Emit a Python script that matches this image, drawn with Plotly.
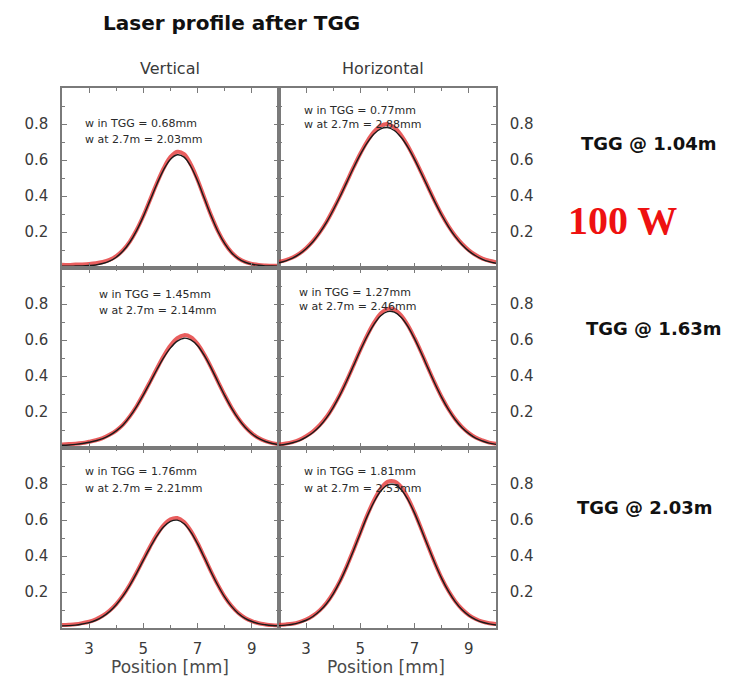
import plotly.graph_objects as go

W, H = 731, 681

# ---- data ----
position = [2.0, 2.25, 2.5, 2.75, 3.0, 3.25, 3.5, 3.75, 4.0, 4.25, 4.5, 4.75, 5.0, 5.25, 5.5, 5.75,
            6.0, 6.25, 6.5, 6.75, 7.0, 7.25, 7.5, 7.75, 8.0, 8.25, 8.5, 8.75, 9.0, 9.25, 9.5, 9.75, 10.0]

fit_104_vert = [0.010, 0.010, 0.011, 0.012, 0.014, 0.017, 0.025, 0.038, 0.060, 0.094, 0.143, 0.208, 0.287, 0.377, 0.467, 0.547,
                0.604, 0.629, 0.616, 0.564, 0.483, 0.386, 0.289, 0.203, 0.135, 0.085, 0.052, 0.032, 0.021, 0.015, 0.012, 0.011, 0.010]
data_104_vert = [0.018, 0.017, 0.019, 0.020, 0.022, 0.026, 0.033, 0.045, 0.066, 0.099, 0.147, 0.211, 0.290, 0.381, 0.472, 0.555,
                 0.617, 0.646, 0.633, 0.575, 0.489, 0.389, 0.291, 0.205, 0.137, 0.087, 0.054, 0.034, 0.023, 0.017, 0.014, 0.012, 0.012]
fit_104_horz = [0.029, 0.040, 0.055, 0.077, 0.107, 0.146, 0.195, 0.253, 0.322, 0.397, 0.477, 0.557, 0.631, 0.695, 0.744, 0.773,
                0.780, 0.764, 0.726, 0.671, 0.602, 0.525, 0.445, 0.366, 0.293, 0.229, 0.174, 0.129, 0.094, 0.068, 0.048, 0.035, 0.026]
data_104_horz = [0.035, 0.044, 0.058, 0.080, 0.110, 0.149, 0.198, 0.256, 0.325, 0.400, 0.480, 0.560, 0.636, 0.703, 0.756, 0.790,
                 0.800, 0.781, 0.738, 0.678, 0.606, 0.528, 0.448, 0.369, 0.296, 0.232, 0.178, 0.134, 0.099, 0.072, 0.052, 0.040, 0.032]

fit_163_vert = [0.015, 0.017, 0.020, 0.025, 0.032, 0.040, 0.052, 0.070, 0.095, 0.128, 0.174, 0.230, 0.295, 0.365, 0.436, 0.502,
                0.556, 0.594, 0.610, 0.601, 0.568, 0.513, 0.444, 0.367, 0.291, 0.222, 0.163, 0.115, 0.079, 0.053, 0.036, 0.025, 0.018]
data_163_vert = [0.020, 0.022, 0.024, 0.028, 0.035, 0.043, 0.055, 0.073, 0.097, 0.130, 0.176, 0.232, 0.298, 0.369, 0.442, 0.511,
                 0.569, 0.610, 0.627, 0.616, 0.578, 0.518, 0.447, 0.369, 0.293, 0.224, 0.165, 0.117, 0.081, 0.055, 0.038, 0.027, 0.020]
fit_163_horz = [0.016, 0.021, 0.029, 0.041, 0.060, 0.086, 0.121, 0.167, 0.226, 0.295, 0.374, 0.458, 0.543, 0.621, 0.687, 0.735,
                0.758, 0.755, 0.727, 0.676, 0.606, 0.526, 0.441, 0.357, 0.280, 0.213, 0.157, 0.113, 0.080, 0.055, 0.039, 0.027, 0.020]
data_163_horz = [0.020, 0.025, 0.033, 0.046, 0.066, 0.092, 0.127, 0.172, 0.230, 0.298, 0.376, 0.460, 0.546, 0.626, 0.695, 0.748,
                 0.773, 0.769, 0.737, 0.682, 0.610, 0.529, 0.443, 0.359, 0.282, 0.215, 0.160, 0.116, 0.083, 0.058, 0.042, 0.030, 0.024]

fit_203_vert = [0.012, 0.013, 0.016, 0.022, 0.030, 0.043, 0.063, 0.091, 0.129, 0.178, 0.237, 0.305, 0.377, 0.448, 0.512, 0.562,
                0.592, 0.599, 0.579, 0.533, 0.467, 0.390, 0.310, 0.236, 0.171, 0.120, 0.081, 0.054, 0.036, 0.024, 0.018, 0.014, 0.012]
data_203_vert = [0.016, 0.018, 0.021, 0.027, 0.035, 0.048, 0.068, 0.096, 0.133, 0.181, 0.240, 0.308, 0.381, 0.453, 0.519, 0.572,
                 0.604, 0.611, 0.589, 0.540, 0.471, 0.392, 0.312, 0.238, 0.173, 0.122, 0.083, 0.056, 0.038, 0.026, 0.020, 0.016, 0.014]
fit_203_horz = [0.013, 0.016, 0.021, 0.030, 0.043, 0.064, 0.094, 0.135, 0.190, 0.259, 0.341, 0.432, 0.527, 0.620, 0.700, 0.761,
                0.794, 0.797, 0.770, 0.714, 0.637, 0.546, 0.451, 0.358, 0.274, 0.203, 0.145, 0.101, 0.069, 0.047, 0.032, 0.023, 0.017]
data_203_horz = [0.018, 0.020, 0.024, 0.033, 0.047, 0.068, 0.098, 0.139, 0.194, 0.262, 0.344, 0.435, 0.531, 0.626, 0.709, 0.774,
                 0.812, 0.815, 0.784, 0.722, 0.641, 0.549, 0.453, 0.360, 0.276, 0.205, 0.148, 0.104, 0.072, 0.050, 0.035, 0.026, 0.022]

panel_notes = [
    ("w in TGG = 0.68mm", "w at 2.7m = 2.03mm"),
    ("w in TGG = 0.77mm", "w at 2.7m = 2.88mm"),
    ("w in TGG = 1.45mm", "w at 2.7m = 2.14mm"),
    ("w in TGG = 1.27mm", "w at 2.7m = 2.46mm"),
    ("w in TGG = 1.76mm", "w at 2.7m = 2.21mm"),
    ("w in TGG = 1.81mm", "w at 2.7m = 2.53mm"),
]
row_labels = ["TGG @ 1.04m", "TGG @ 1.63m", "TGG @ 2.03m"]
col_labels = ["Vertical", "Horizontal"]
y_ticks = [0.2, 0.4, 0.6, 0.8]
y_tick_text = ["0.2", "0.4", "0.6", "0.8"]
x_ticks = [3, 5, 7, 9]
x_tick_text = ["3", "5", "7", "9"]

panels = [
    (fit_104_vert, data_104_vert), (fit_104_horz, data_104_horz),
    (fit_163_vert, data_163_vert), (fit_163_horz, data_163_horz),
    (fit_203_vert, data_203_vert), (fit_203_horz, data_203_horz),
]

# ---- layout geometry (pixels) ----
col_px = [(62, 279), (279, 496)]
row_px = [(88, 268), (268, 448), (448, 628)]
note_px = [(83, 124, 139), (302, 110, 125), (97, 294, 310), (297, 292, 307), (83, 472, 488), (302, 472, 488)]


def px_x(p):
    return p / W


def px_y(p):
    return 1 - p / H


fig = go.Figure()
FONT = "DejaVu Sans"
AXCOL = "#7a7a7a"
TXT = "#3a3a3a"

for i, (fit, dat) in enumerate(panels):
    r, c = divmod(i, 2)
    n = i + 1
    xa = "x" if n == 1 else f"x{n}"
    ya = "y" if n == 1 else f"y{n}"
    fig.add_trace(go.Scatter(x=position, y=dat, mode="lines", line=dict(color="rgba(225,40,40,0.75)", width=4, shape="spline"),
                             xaxis=xa, yaxis=ya, showlegend=False, hoverinfo="skip"))
    fig.add_trace(go.Scatter(x=position, y=fit, mode="lines", line=dict(color="#1a1a1a", width=1.4, shape="spline"),
                             xaxis=xa, yaxis=ya, showlegend=False, hoverinfo="skip"))

    xkey = "xaxis" if n == 1 else f"xaxis{n}"
    ykey = "yaxis" if n == 1 else f"yaxis{n}"
    x0, x1 = col_px[c]
    y0, y1 = row_px[r]
    fig.layout[xkey] = dict(
        domain=[px_x(x0), px_x(x1)], anchor=ya, range=[2, 10],
        showline=True, linecolor=AXCOL, linewidth=1.5, mirror="ticks",
        ticks="inside", ticklen=5, tickcolor=AXCOL, tickwidth=1,
        tickvals=x_ticks, ticktext=x_tick_text, showticklabels=(r == 2),
        tickfont=dict(family=FONT, size=15, color=TXT), ticklabelstandoff=6,
        minor=dict(ticks="inside", ticklen=3, tickcolor=AXCOL, dtick=1, tick0=2, showgrid=False),
        showgrid=False, zeroline=False, fixedrange=True,
    )
    fig.layout[ykey] = dict(
        domain=[px_y(y1), px_y(y0)], anchor=xa, range=[0, 1],
        showline=True, linecolor=AXCOL, linewidth=1.5, mirror="ticks",
        ticks="inside", ticklen=5, tickcolor=AXCOL, tickwidth=1,
        tickvals=y_ticks, ticktext=y_tick_text, side=("left" if c == 0 else "right"),
        tickfont=dict(family=FONT, size=15, color=TXT), ticklabelstandoff=9,
        minor=dict(ticks="inside", ticklen=3, tickcolor=AXCOL, dtick=0.1, tick0=0, showgrid=False),
        showgrid=False, zeroline=False, fixedrange=True,
    )

annotations = []
# in-panel notes
for i, (l1, l2) in enumerate(panel_notes):
    xp, ya1, ya2 = note_px[i]
    for txt, yp in ((l1, ya1), (l2, ya2)):
        annotations.append(dict(text=txt, x=px_x(xp), y=px_y(yp), xref="paper", yref="paper",
                                xanchor="left", yanchor="middle", showarrow=False,
                                font=dict(family=FONT, size=11, color="#2a2a2a")))

# title
annotations.append(dict(text="<b>Laser profile after TGG</b>", x=px_x(231), y=px_y(23), xref="paper", yref="paper",
                        xanchor="center", yanchor="middle", showarrow=False,
                        font=dict(family=FONT, size=20, color="#111")))
# column headers
for lab, cx in zip(col_labels, [170, 383]):
    annotations.append(dict(text=lab, x=px_x(cx), y=px_y(68), xref="paper", yref="paper",
                            xanchor="center", yanchor="middle", showarrow=False,
                            font=dict(family=FONT, size=16, color=TXT)))
# x axis titles
for cx in [170, 386]:
    annotations.append(dict(text="Position [mm]", x=px_x(cx), y=px_y(667), xref="paper", yref="paper",
                            xanchor="center", yanchor="middle", showarrow=False,
                            font=dict(family=FONT, size=17, color="#4a4a4a")))
# row labels
for lab, (cx, cy) in zip(row_labels, [(649, 144), (654, 328), (645, 507)]):
    annotations.append(dict(text=f"<b>{lab}</b>", x=px_x(cx), y=px_y(cy), xref="paper", yref="paper",
                            xanchor="center", yanchor="middle", showarrow=False,
                            font=dict(family=FONT, size=18, color="#111")))
# power label
annotations.append(dict(text="<b>100 W</b>", x=px_x(622), y=px_y(220), xref="paper", yref="paper",
                        xanchor="center", yanchor="middle", showarrow=False,
                        font=dict(family="Liberation Serif", size=40, color="#ee1111")))

fig.update_layout(
    width=W, height=H, margin=dict(l=0, r=0, t=0, b=0),
    paper_bgcolor="white", plot_bgcolor="white",
    annotations=annotations, showlegend=False,
)

fig.write_html("out.html", config={"displayModeBar": False})
